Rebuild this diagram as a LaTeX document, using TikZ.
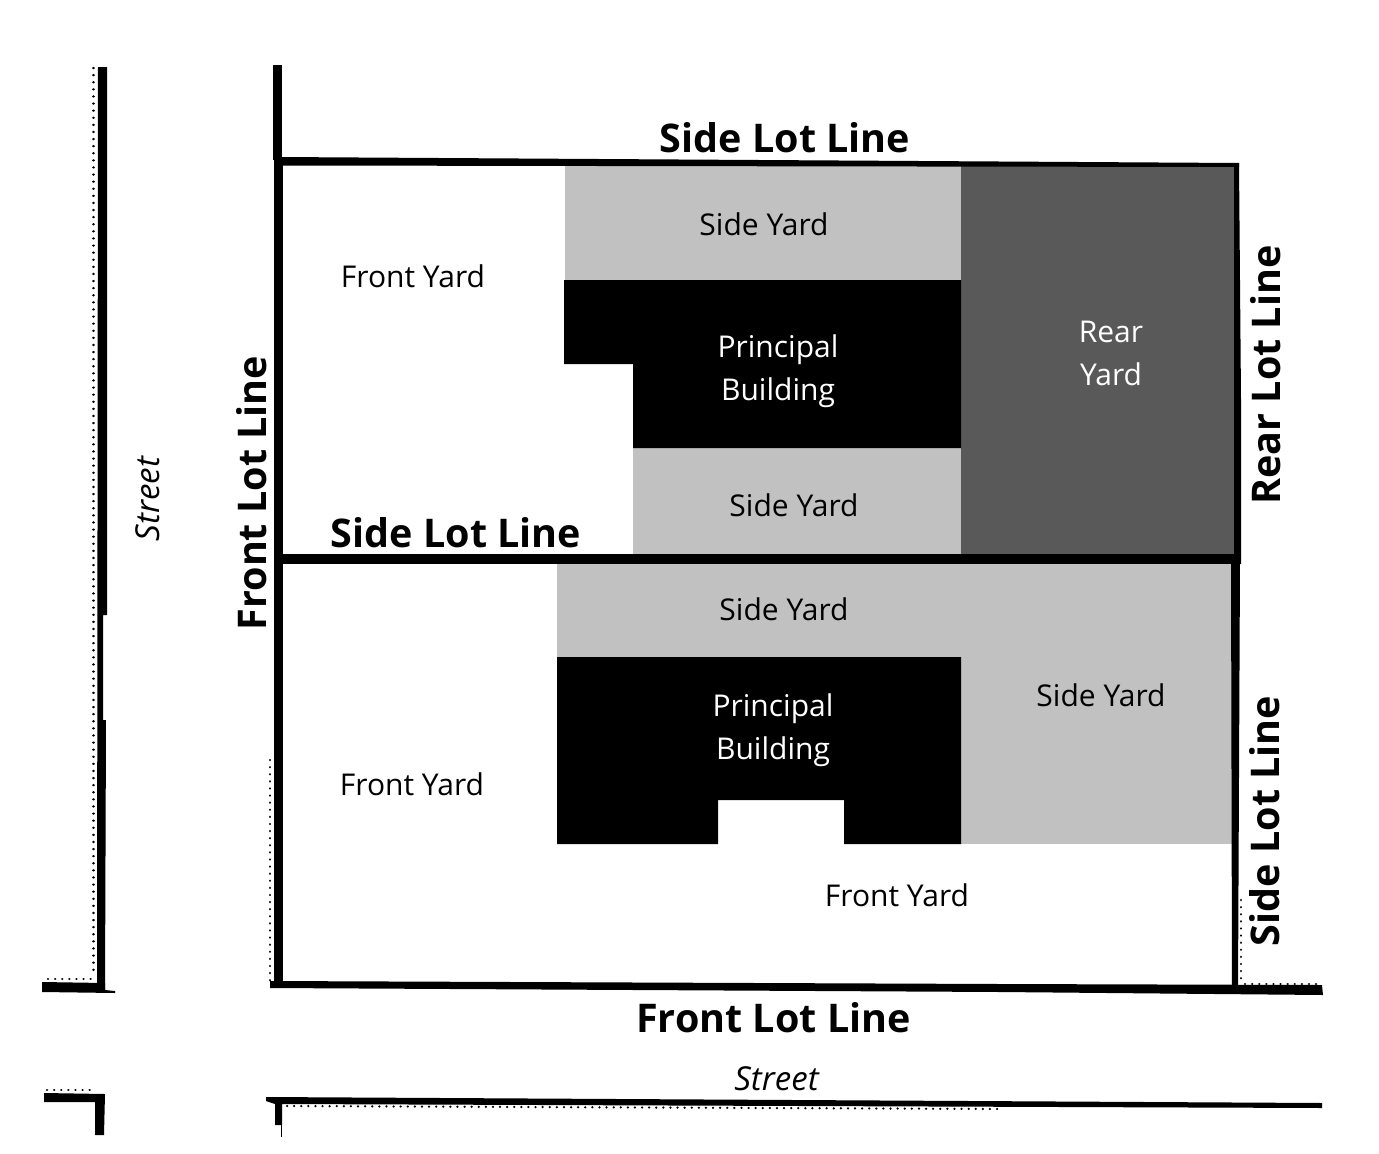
\documentclass[tikz,border=0pt]{standalone}
\usepackage{fontspec}
\setmainfont{Open Sans}
\tikzset{x=1pt,y=-1pt,
 speckle/.style={line width=2.4pt,line cap=round,dash pattern=on 0.1pt off 7pt},
 lbl/.style={font=\fontsize{30}{43}\selectfont,align=center,inner sep=0pt},
 lblw/.style={lbl,text=white},
 lblst/.style={font=\fontsize{33}{40}\selectfont\itshape,inner sep=0pt},
 big/.style={font=\fontsize{39.5}{48}\selectfont\bfseries,inner sep=0pt},
}
\begin{document}
\begin{tikzpicture}
\useasboundingbox (0,0) rectangle (1379,1154);
\fill[white] (0,0) rectangle (1379,1154);
% yards
\fill[black!24.5] (565,166) rectangle (961,280);
\fill[black!24.5] (633,448) rectangle (961,555);
\fill[black!24.5] (557,563) rectangle (1233,657);
\fill[black!24.5] (961,657) rectangle (1233,844);
\fill[black!65] (961,166) rectangle (1235,555);
% buildings
\fill[black] (564,280) -- (961,280) -- (961,448) -- (633,448) -- (633,364) -- (564,364) -- cycle;
\fill[black] (557,657) -- (961,657) -- (961,844) -- (844,844) -- (844,800) -- (718,800) -- (718,844) -- (557,844) -- cycle;
% lot lines
\fill (279,157) -- (1239,163) -- (1239,167) -- (279,165.5) -- cycle;
\fill (274,158) rectangle (283,986);
\fill (275,554) rectangle (1241,564);
\fill (1234,163) -- (1239,163) -- (1241,400) -- (1241,564) -- (1234,564) -- cycle;
\fill (1231,560) -- (1240,560) -- (1238,990) -- (1232,990) -- cycle;
\fill (270,981) -- (1000,984) -- (1322,985) -- (1323,995) -- (1000,992) -- (270,988) -- cycle;
% street stubs
\fill (98,67) -- (107,67) -- (107,615) -- (103,615) -- (103,720) -- (106,720) -- (105,992) -- (97,992) -- cycle;
\fill (42,982) -- (105,983) -- (105,990) -- (115,991) -- (115,993) -- (42,992) -- cycle;
\fill (273,65) rectangle (282,160);
\fill (44,1093) -- (105,1094) -- (104,1135) -- (95,1135) -- (95,1102) -- (44,1102) -- cycle;
\fill (266,1097) -- (1322,1103) -- (1322,1108) -- (282,1104) -- (282,1125) -- (275,1125) -- (275,1104) -- (266,1101) -- cycle;
\fill (280.5,1125) rectangle (282,1137);
% scan noise
\draw[speckle] (93.5,68) -- (93.5,975);
\draw[speckle] (48,979) -- (92,979);
\draw[speckle] (270,760) -- (270,985);
\draw[speckle] (287,1106) -- (1000,1109);
\draw[speckle] (47,1090) -- (90,1090);
\draw[speckle] (1241,900) -- (1241,982);
\draw[speckle] (1245,984) -- (1320,984);
% labels
\node[big] (n1) at (785,138) {Side Lot Line};
\node[big] (n2) at (456,533) {Side Lot Line};
\node[big] (n3) at (773.5,1018) {Front Lot Line};
\node[big,rotate=90] (n4) at (252,493) {Front Lot Line};
\node[big,rotate=90] (n5) at (1266,375) {Rear Lot Line};
\node[big,rotate=90] (n6) at (1265,821) {Side Lot Line};
\node[lbl] (a1) at (413,276) {Front Yard};
\node[lbl] (a2) at (412,784) {Front Yard};
\node[lbl] (a3) at (897,895) {Front Yard};
\node[lbl] (b1) at (764,224) {Side Yard};
\node[lbl] (b2) at (794,505) {Side Yard};
\node[lbl] (b3) at (784,609) {Side Yard};
\node[lbl] (b4) at (1101,695) {Side Yard};
\node[lblw] (c1) at (778,371.5) {Principal\\Building};
\node[lblw] (c2) at (773,730) {Principal\\Building};
\node[lblw] (d) at (1111,353) {Rear\\Yard};
\node[lblst,rotate=90] (s1) at (148,499) {Street};
\node[lblst] (s2) at (776.5,1079) {Street};
\end{tikzpicture}
\end{document}
